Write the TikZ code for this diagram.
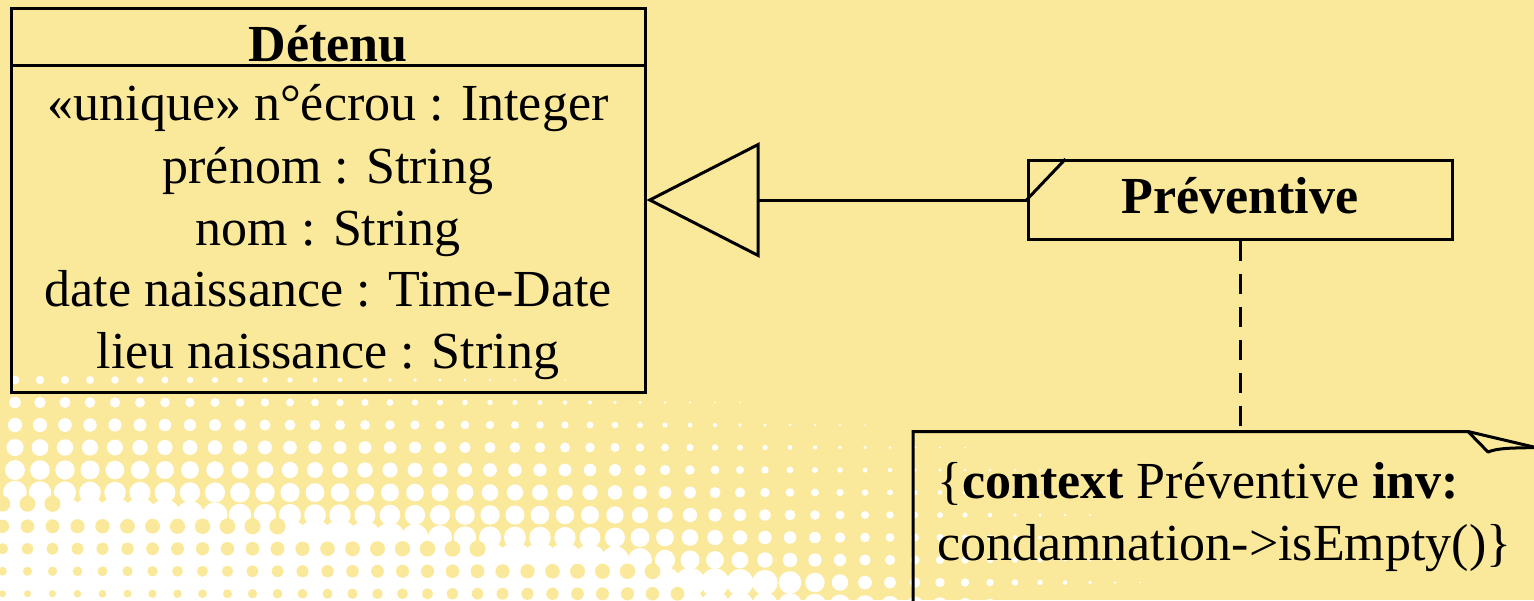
\documentclass[tikz,border=0pt]{standalone}
\usepackage{fontspec}
\setmainfont{Liberation Serif}
\usetikzlibrary{arrows.meta}
\definecolor{bgyellow}{RGB}{251,233,155}
\begin{document}
\begin{tikzpicture}[x=1pt,y=-1pt,
  umlline/.style={line width=3pt, draw=black},
  txt/.style={font=\fontsize{52}{62}\selectfont, inner sep=0pt, anchor=base},
  boldtxt/.style={txt, font=\fontsize{52}{62}\selectfont\bfseries},
  notetxt/.style={font=\fontsize{52}{62}\selectfont, inner sep=0pt, anchor=base west},
  classbox/.style={umlline, rectangle, inner sep=0pt},
  dashlink/.style={umlline, dash pattern=on 20pt off 13pt},
  genarrow/.style={umlline, -{Triangle[open, length=113pt, width=115pt, line width=3pt]}}]

% page and background
\useasboundingbox (0,0) rectangle (1534,600);
\clip (0,0) rectangle (1534,600);
\fill[bgyellow] (0,0) rectangle (1534,600);

% halftone: white dots growing towards the lower left until they merge
\foreach \i in {0,...,47}{
  \foreach \j in {0,...,10}{
    \pgfmathsetmacro\cx{15+25*\i}
    \pgfmathsetmacro\cy{380+22.5*\j}
    \pgfmathsetmacro\dd{490+0.105*\cx-\cy}
    \pgfmathsetmacro\fd{min(1,max(0,(1200-\cx)/600))}
    \pgfmathsetmacro\rr{(\dd>0 ? 11.3-0.062*\dd : min(17.5,11.3-0.55*\dd))*\fd}
    \ifdim \rr pt>0.8pt
      \fill[white] (\cx,\cy) circle[radius=\rr pt];
    \fi
  }
}
% yellow dots left inside the merged white part
\foreach \i in {-1,...,40}{
  \foreach \j in {-1,...,10}{
    \pgfmathsetmacro\cx{27.5+25*\i}
    \pgfmathsetmacro\cy{391.25+22.5*\j}
    \pgfmathsetmacro\dd{490+0.105*\cx-\cy}
    \pgfmathsetmacro\fd{min(1,max(0,(1200-\cx)/600))}
    \pgfmathtruncatemacro\hole{and(\dd<-6,min(17.5,11.3-0.55*\dd)*\fd>15) ? 1 : 0}
    \ifnum\hole=1
      \pgfmathsetmacro\ry{max(3.5,8.5+0.05*\dd)}
      \fill[bgyellow] (\cx,\cy) circle[radius=\ry pt];
    \fi
  }
}

% class Détenu
\node[classbox, minimum width=634pt, minimum height=384pt] (detenu) at (328,200) {};
\draw[umlline] ([yshift=-59pt]detenu.north west) -- ([yshift=-59pt]detenu.north east);
\node[boldtxt] (detname) at (328,61) {Détenu};
\node[txt] (att1) at (328,120) {«unique» n°écrou : Integer};
\node[txt] (att2) at (328,183) {prénom : String};
\node[txt] (att3) at (328,245) {nom : String};
\node[txt] (att4) at (328,306) {date naissance : Time-Date};
\node[txt] (att5) at (328,368) {lieu naissance : String};

% class Préventive
\node[classbox, minimum width=424pt, minimum height=79pt] (prev) at (1240,200) {};
\node[boldtxt] (prevname) at (1240,213) {Préventive};
\draw[umlline] ([xshift=39pt]prev.north west) -- (prev.west);

% generalization
\draw[genarrow] (prev.west) -- (detenu.east);

% constraint note
\coordinate (notetop) at (1240,431.5);
\draw[umlline, line join=miter] (913,620) -- (913,431.5) -- (1468,431.5) -- (1540,448.5);
\draw[umlline, line join=round] (1468,431.5) -- (1488,452) .. controls (1498,448) and (1510,448) .. (1540,447.5);
\node[notetxt] (notel1) at (937,498) {\{\textbf{context} Préventive \textbf{inv:}};
\node[notetxt] (notel2) at (937,560) {condamnation->isEmpty()\}};
\draw[dashlink] (prev.south) -- (notetop);
\end{tikzpicture}
\end{document}
